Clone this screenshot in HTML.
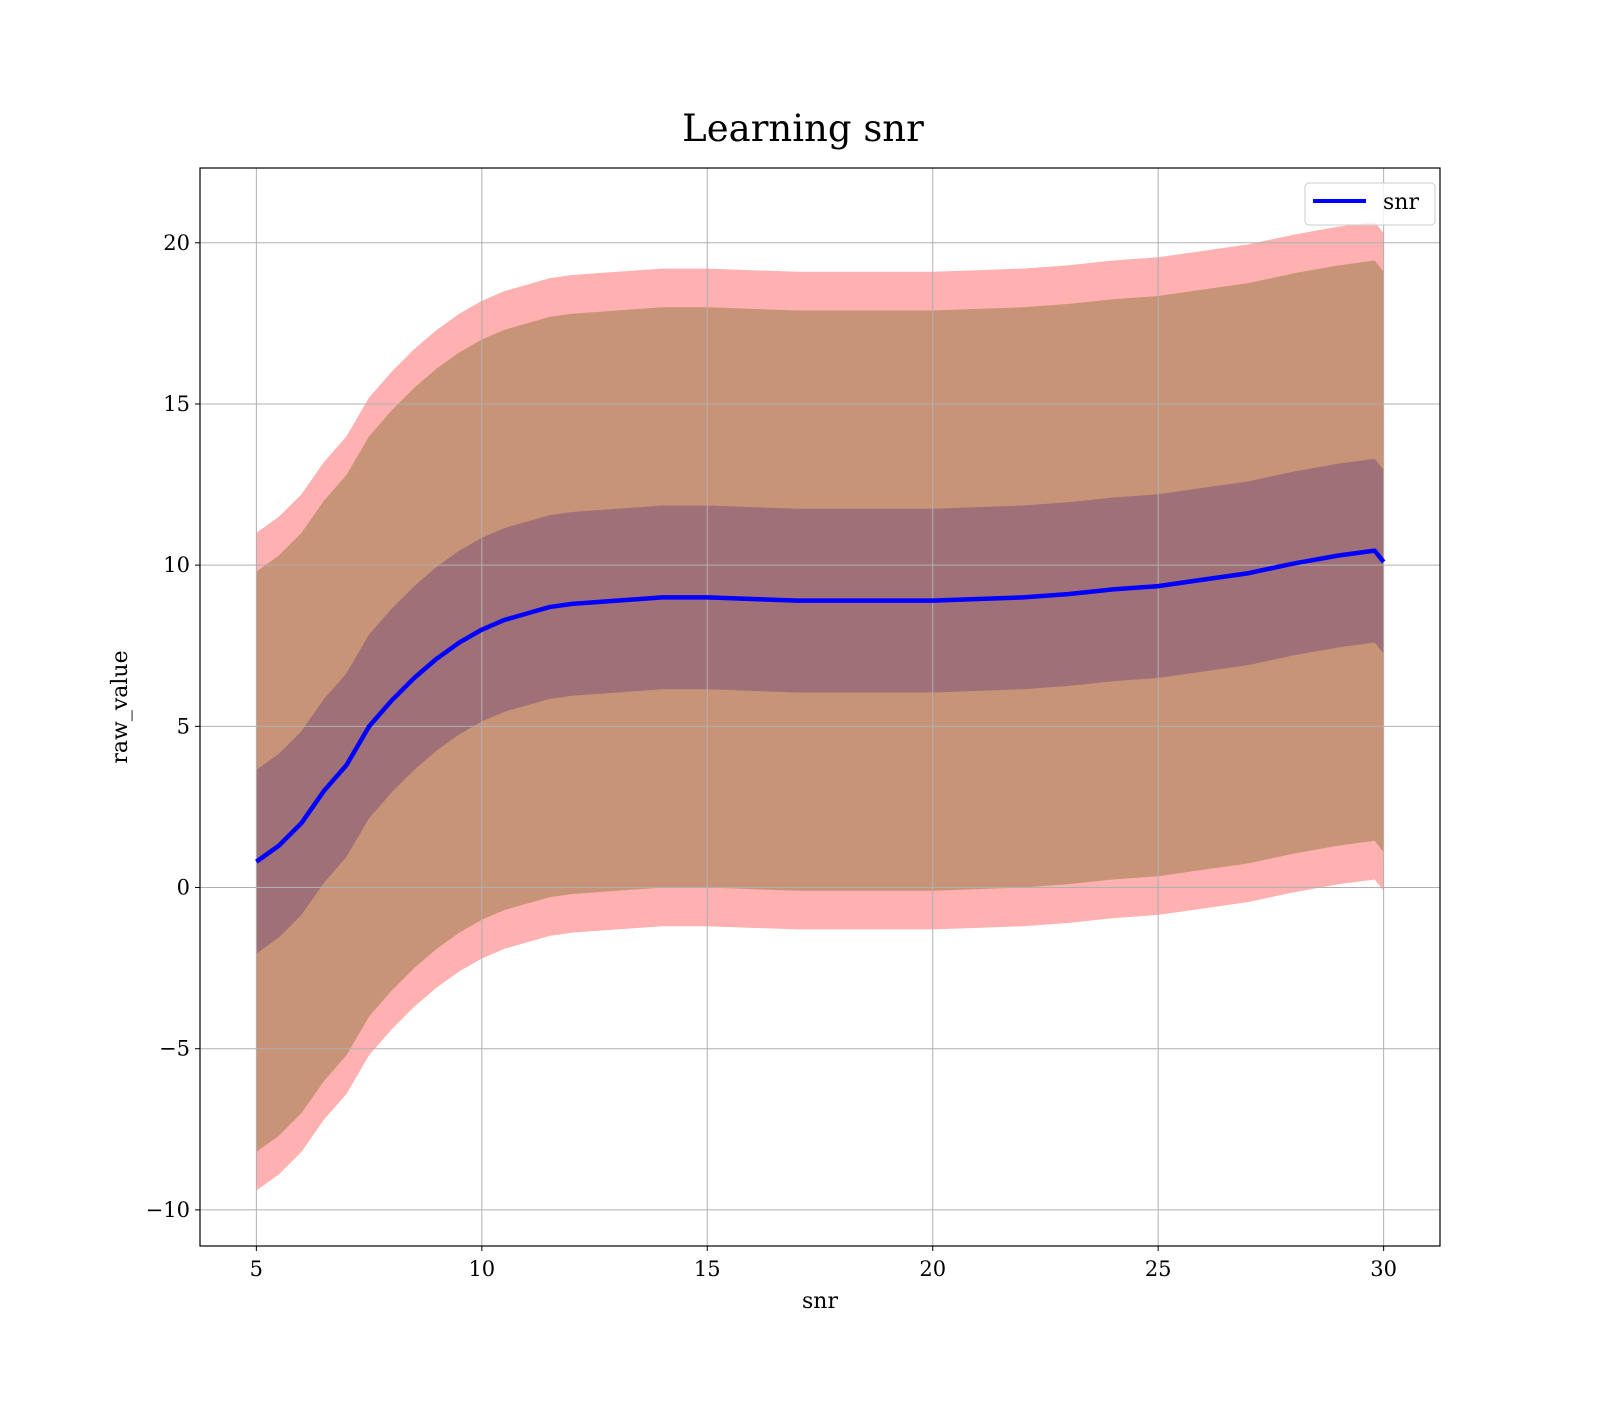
<!DOCTYPE html>
<html><head><meta charset="utf-8"><style>
body{margin:0;background:#fff}
svg text{font-family:"DejaVu Serif","Liberation Serif",serif;fill:#000}
</style></head><body>
<svg id="chart" width="1600" height="1400" viewBox="0 0 1600 1400" xmlns="http://www.w3.org/2000/svg">
<rect width="1600" height="1400" fill="#fff"/>
<text x="803" y="141" font-size="37" text-anchor="middle">Learning snr</text>
<g id="bands"></g>
<g id="grid"></g>
<g id="line"></g>
<rect x="200" y="168" width="1240" height="1078" fill="none" stroke="#000" stroke-width="1.2"/>
<g id="ticks"></g>
<text x="820" y="1308" font-size="22" text-anchor="middle">snr</text>
<text x="0" y="0" font-size="22" text-anchor="middle" transform="translate(127,707) rotate(-90)">raw_value</text>
<g>
<rect x="1305" y="183" width="130" height="42" rx="4" fill="#fff" fill-opacity="0.8" stroke="#ccc"/>
<line x1="1313" y1="201" x2="1366" y2="201" stroke="#0000ff" stroke-width="4"/>
<text x="1383" y="209" font-size="22">snr</text>
</g>
</svg>
<script>
const xs = [5,5.5,6,6.5,7,7.5,8,8.5,9,9.5,10,10.5,11,11.5,12,13,14,15,16,17,18,19,20,21,22,23,24,25,26,27,28,29,29.8,30];
const meanVals = [0.8,1.3,2.0,3.0,3.8,5.0,5.8,6.5,7.1,7.6,8.0,8.3,8.5,8.7,8.8,8.9,9.0,9.0,8.95,8.9,8.9,8.9,8.9,8.95,9.0,9.1,9.25,9.35,9.55,9.75,10.05,10.3,10.45,10.1];
const innerHalf = [2.85];
const midHalf = [9.0];
const outerHalf = [10.2];
const xTicks = [5,10,15,20,25,30];
const yTicks = [-10,-5,0,5,10,15,20];
const yTickLabels = ["\u221210","\u22125","0","5","10","15","20"];

const L=200,R=1440,T=168,B=1246,x0=3.75,x1=31.25,y0=-11.12,y1=22.32;
const sx=v=>L+(v-x0)/(x1-x0)*(R-L);
const sy=v=>B-(v-y0)/(y1-y0)*(B-T);
const NS='http://www.w3.org/2000/svg';
function mk(tag,parent){const e=document.createElementNS(NS,tag);parent.appendChild(e);return e;}

const bands=document.getElementById('bands');
function band(h,color,name){
  const up=xs.map((x,i)=>sx(x)+','+sy(meanVals[i]+h[0]));
  const lo=xs.map((x,i)=>sx(x)+','+sy(meanVals[i]-h[0])).reverse();
  const p=mk('polygon',bands);
  
  
  p.setAttribute('points',up.concat(lo).join(' '));
  p.setAttribute('fill',color);
}
band(outerHalf,'#ffb0b0','band-outer');
band(midHalf,'#c89478','band-middle');
band(innerHalf,'#a07078','band-inner');

const grid=document.getElementById('grid'),ticks=document.getElementById('ticks');
xTicks.forEach(v=>{
  const g=mk('line',grid);
  
  
  g.setAttribute('x1',sx(v));g.setAttribute('x2',sx(v));g.setAttribute('y1',T);g.setAttribute('y2',B);
  g.setAttribute('stroke','#b0b0b0');g.setAttribute('stroke-width','1');
  const t=mk('line',ticks);
  
  
  t.setAttribute('x1',sx(v));t.setAttribute('x2',sx(v));t.setAttribute('y1',B);t.setAttribute('y2',B+5);t.setAttribute('stroke','#000');
  const l=mk('text',ticks);
  
  
  l.setAttribute('x',sx(v));l.setAttribute('y',B+30);l.setAttribute('font-size','21');l.setAttribute('text-anchor','middle');
  l.textContent=v;
});
yTicks.forEach((v,i)=>{
  const g=mk('line',grid);
  
  
  g.setAttribute('x1',L);g.setAttribute('x2',R);g.setAttribute('y1',sy(v));g.setAttribute('y2',sy(v));
  g.setAttribute('stroke','#b0b0b0');g.setAttribute('stroke-width','1');
  const t=mk('line',ticks);
  
  
  t.setAttribute('x1',L-5);t.setAttribute('x2',L);t.setAttribute('y1',sy(v));t.setAttribute('y2',sy(v));t.setAttribute('stroke','#000');
  const l=mk('text',ticks);
  
  
  l.setAttribute('x',L-10);l.setAttribute('y',sy(v)+7);l.setAttribute('font-size','21');l.setAttribute('text-anchor','end');
  l.textContent=yTickLabels[i];
});

const ln=mk('polyline',document.getElementById('line'));


ln.setAttribute('points',xs.map((x,i)=>sx(x)+','+sy(meanVals[i])).join(' '));
ln.setAttribute('fill','none');ln.setAttribute('stroke','#0000ff');ln.setAttribute('stroke-width','4.5');ln.setAttribute('stroke-linejoin','round');
</script>
</body></html>
